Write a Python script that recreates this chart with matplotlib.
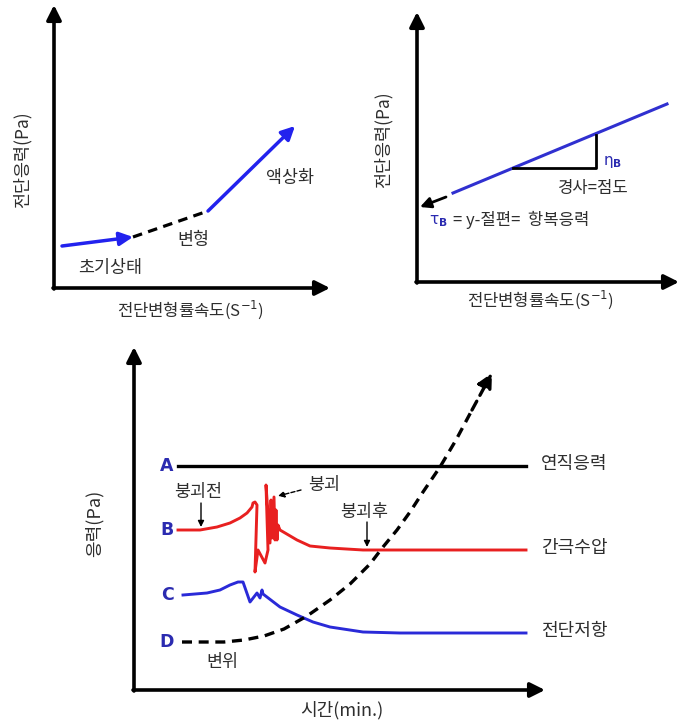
import matplotlib
matplotlib.use("Agg")
import matplotlib.pyplot as plt

plt.rcParams['font.family'] = ['Noto Sans CJK KR', 'DejaVu Sans']

# ---------------- data ----------------
# Panel 1: shear stress vs shear strain rate (schematic)
p1_init_x = [8, 79]
p1_init_y = [42, 51]
p1_trans_x = [79, 154]
p1_trans_y = [51, 77]
p1_liq_x = [154, 241]
p1_liq_y = [77, 162]
p1_labels = ['초기상태', '변형', '액상화']

# Panel 2: Bingham line
p2_line_x = [36, 250]
p2_line_y = [89, 178]
p2_tri_x = [96, 179, 179]
p2_tri_y = [114, 114, 147]
p2_intercept_from = (29, 85)
p2_intercept_to = (3, 75)

# Panel 3: stress vs time
t_A = [44, 392]
s_A = [224, 224]
t_B = [44, 66, 83, 96, 106, 113, 118, 119, 121, 123, 121, 124, 131, 134, 132, 136, 137, 138,
       140, 141, 142, 143, 144, 146, 163, 176, 196, 229, 392]
s_B = [160, 160, 163, 167, 172, 177, 183, 187, 188, 185, 118, 140, 127, 140, 205, 147, 190, 152,
       193, 150, 180, 150, 165, 160, 150, 144, 142, 140, 140]
t_C = [49, 73, 86, 96, 104, 109, 116, 123, 126, 128, 129, 146, 163, 179, 196, 229, 266, 392]
s_C = [95, 97, 100, 105, 108, 108, 88, 97, 92, 100, 96, 83, 75, 68, 63, 58, 57, 57]
t_D = [48, 90, 110, 130, 150, 173, 196, 216, 236, 249, 263, 276, 289, 306, 322, 338, 358]
s_D = [48, 48, 50, 54, 61, 74, 90, 106, 126, 143, 160, 178, 198, 223, 250, 280, 317]
series_letters = ['A', 'B', 'C', 'D']
series_names = ['연직응력', '간극수압', '전단저항']

W, H = 680, 726
fig = plt.figure(figsize=(W / 100, H / 100), dpi=100)


def panel(x0, y0, x1, y1, ox, oy):
    ax = fig.add_axes([x0 / W, 1 - y1 / H, (x1 - x0) / W, (y1 - y0) / H])
    ax.set_xlim(x0 - ox, x1 - ox)
    ax.set_ylim(oy - y1, oy - y0)
    ax.axis('off')
    return ax


def axis_arrows(ax, xtip, ytip, lw=2.6):
    ap = dict(arrowstyle='-|>', lw=lw, color='black', mutation_scale=22, shrinkA=0, shrinkB=0)
    ax.annotate('', xy=(xtip, 0), xytext=(-1, 0), arrowprops=ap, annotation_clip=False)
    ax.annotate('', xy=(0, ytip), xytext=(0, -1), arrowprops=ap, annotation_clip=False)


GRAY = '#2e2e2e'
BLUE = '#2222ee'

# ---------------- panel 1 ----------------
ax1 = panel(0, 0, 340, 330, 54, 288)
axis_arrows(ax1, 276, 283)
ax1.annotate('', xy=(p1_init_x[1], p1_init_y[1]), xytext=(p1_init_x[0], p1_init_y[0]),
             arrowprops=dict(arrowstyle='-|>', lw=2.5, color=BLUE, mutation_scale=20,
                             shrinkA=0, shrinkB=0))
ax1.plot(p1_trans_x, p1_trans_y, color='black', lw=2.3, ls=(0, (3, 2)))
ax1.annotate('', xy=(p1_liq_x[1], p1_liq_y[1]), xytext=(p1_liq_x[0], p1_liq_y[0]),
             arrowprops=dict(arrowstyle='-|>', lw=2.5, color=BLUE, mutation_scale=20,
                             shrinkA=0, shrinkB=0))
ax1.text(56, 20, p1_labels[0], fontsize=12.5, ha='center', va='center', color=GRAY)
ax1.text(139, 48, p1_labels[1], fontsize=12.5, ha='center', va='center', color=GRAY)
ax1.text(236, 110, p1_labels[2], fontsize=12.5, ha='center', va='center', color=GRAY)
ax1.text(-32, 128, '전단응력(Pa)', fontsize=12.5, ha='center', va='center', rotation=90, color=GRAY)
ax1.text(136, -22, '전단변형률속도(S$^{-1}$)', fontsize=12, ha='center', va='center', color=GRAY)

# ---------------- panel 2 ----------------
ax2 = panel(340, 0, 680, 330, 417, 282)
axis_arrows(ax2, 262, 270)
ax2.plot(p2_line_x, p2_line_y, color='#3030d0', lw=2.2)
ax2.plot(p2_tri_x, p2_tri_y, color='black', lw=2.0)
ax2.annotate('', xy=p2_intercept_to, xytext=p2_intercept_from,
             arrowprops=dict(arrowstyle='-|>', lw=2.0, color='black', mutation_scale=16,
                             shrinkA=0, shrinkB=0))
ax2.text(186, 121, r'$\mathrm{\eta}_\mathbf{B}$', fontsize=11, ha='left', va='center', color='#2a2ab0')
ax2.text(176, 94, '경사=점도', fontsize=12, ha='center', va='center', color=GRAY)
ax2.text(12, 62, r'$\mathrm{\tau}_\mathbf{B}$', fontsize=11, ha='left', va='center', color='#2a2ab0')
ax2.text(36, 62, '= y-절편=  항복응력', fontsize=12, ha='left', va='center', color=GRAY)
ax2.text(-34, 142, '전단응력(Pa)', fontsize=12.5, ha='center', va='center', rotation=90, color=GRAY)
ax2.text(123, -18, '전단변형률속도(S$^{-1}$)', fontsize=12, ha='center', va='center', color=GRAY)

# ---------------- panel 3 ----------------
ax3 = panel(0, 330, 680, 726, 134, 690)
axis_arrows(ax3, 411, 343)
ax3.plot(t_A, s_A, color='black', lw=2.4)
ax3.plot(t_B, s_B, color='#e82020', lw=2.1)
ax3.plot(t_C, s_C, color='#2a2ad8', lw=2.1)
ax3.plot(t_D[:-1], s_D[:-1], color='black', lw=2.4, ls=(0, (3, 2)))
ax3.annotate('', xy=(t_D[-1], s_D[-1]), xytext=(t_D[-2], s_D[-2]),
             arrowprops=dict(arrowstyle='-|>', lw=2.4, color='black', mutation_scale=22,
                             shrinkA=0, shrinkB=0, linestyle=(0, (3, 2))))

letter_y = [s_A[0], s_B[0], s_C[0], s_D[0]]
for lab, yy in zip(series_letters, letter_y):
    ax3.text(33, yy, lab, fontsize=12.5, fontweight='bold', ha='center', va='center',
             color='#2b2bb0', family='DejaVu Sans')
for lab, yy in zip(series_names, [s_A[-1], s_B[-1], s_C[-1]]):
    ax3.text(440, yy + 2, lab, fontsize=13, ha='center', va='center', color=GRAY)

ax3.text(88, 28, '변위', fontsize=12.5, ha='center', va='center', color=GRAY)
ax3.text(64, 198, '붕괴전', fontsize=12.5, ha='center', va='center', color=GRAY)
ax3.annotate('', xy=(67, 163), xytext=(67, 187),
             arrowprops=dict(arrowstyle='-|>', lw=1.0, color='black', mutation_scale=9,
                             shrinkA=0, shrinkB=0))
ax3.text(190, 205, '붕괴', fontsize=12.5, ha='center', va='center', color=GRAY)
ax3.annotate('', xy=(144, 194), xytext=(167, 200),
             arrowprops=dict(arrowstyle='-|>', lw=1.0, color='black', mutation_scale=9,
                             shrinkA=0, shrinkB=0, linestyle=(0, (3, 1.5))))
ax3.text(230, 178, '붕괴후', fontsize=12.5, ha='center', va='center', color=GRAY)
ax3.annotate('', xy=(233, 143), xytext=(233, 168),
             arrowprops=dict(arrowstyle='-|>', lw=1.0, color='black', mutation_scale=9,
                             shrinkA=0, shrinkB=0))
ax3.text(208, -20, '시간(min.)', fontsize=13, ha='center', va='center', color=GRAY)
ax3.text(-40, 167, '응력(Pa)', fontsize=13, ha='center', va='center', rotation=90, color=GRAY)

fig.savefig('out.png', dpi=100)
